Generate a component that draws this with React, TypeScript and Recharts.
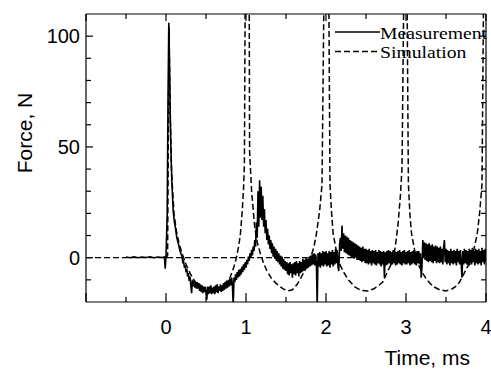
import { LineChart, Line, XAxis, YAxis, ReferenceLine, Legend } from "recharts";

// axis ticks
const timeTicks = [-1, -0.5, 0, 0.5, 1, 1.5, 2, 2.5, 3, 3.5, 4];
const timeLabels = [0, 1, 2, 3, 4];
const forceTicks = [-10, 0, 10, 20, 30, 40, 50, 60, 70, 80, 90, 100];
const forceLabels = [0, 50, 100];

// measured force, ms / N
const measTime = [
  -0.5, -0.45, -0.4, -0.35, -0.3, -0.25, -0.2, -0.15, -0.1, -0.05, -0.02, -0.01, 0,
  0.015, 0.025, 0.035, 0.045, 0.055, 0.065, 0.075, 0.09, 0.105, 0.12, 0.135, 0.15, 0.175,
  0.2, 0.21, 0.22, 0.23, 0.24, 0.25, 0.26, 0.27, 0.28, 0.29, 0.3,
  0.31, 0.32, 0.33, 0.34, 0.35, 0.36, 0.37, 0.38, 0.39, 0.4,
  0.41, 0.42, 0.43, 0.44, 0.45, 0.46, 0.47, 0.48, 0.49, 0.5,
  0.51, 0.52, 0.53, 0.54, 0.55, 0.56, 0.57, 0.58, 0.59, 0.6,
  0.61, 0.62, 0.63, 0.64, 0.65, 0.66, 0.67, 0.68, 0.69, 0.7,
  0.71, 0.72, 0.73, 0.74, 0.75, 0.76, 0.77, 0.78, 0.79, 0.8,
  0.81, 0.82, 0.83, 0.84, 0.85, 0.86, 0.87, 0.88, 0.89, 0.9,
  0.91, 0.92, 0.93, 0.94, 0.95, 0.96, 0.97, 0.98, 0.99, 1.0,
  1.01, 1.02, 1.03, 1.04, 1.05, 1.06, 1.07, 1.08, 1.09, 1.1,
  1.11, 1.12, 1.13, 1.14, 1.15, 1.16, 1.17, 1.18, 1.19, 1.2,
  1.21, 1.22, 1.23, 1.24, 1.25, 1.26, 1.27, 1.28, 1.29, 1.3,
  1.31, 1.32, 1.33, 1.34, 1.35, 1.36, 1.37, 1.38, 1.39, 1.4,
  1.41, 1.42, 1.43, 1.44, 1.45, 1.46, 1.47, 1.48, 1.49, 1.5,
  1.51, 1.52, 1.53, 1.54, 1.55, 1.56, 1.57, 1.58, 1.59, 1.6,
  1.61, 1.62, 1.63, 1.64, 1.65, 1.66, 1.67, 1.68, 1.69, 1.7,
  1.71, 1.72, 1.73, 1.74, 1.75, 1.76, 1.77, 1.78, 1.79, 1.8,
  1.81, 1.82, 1.83, 1.84, 1.85, 1.86, 1.87, 1.88, 1.89, 1.9,
  1.91, 1.92, 1.93, 1.94, 1.95, 1.96, 1.97, 1.98, 1.99, 2.0,
  2.01, 2.02, 2.03, 2.04, 2.05, 2.06, 2.07, 2.08, 2.09, 2.1,
  2.11, 2.12, 2.13, 2.14, 2.15, 2.16, 2.17, 2.18, 2.19, 2.2,
  2.21, 2.22, 2.23, 2.24, 2.25, 2.26, 2.27, 2.28, 2.29, 2.3,
  2.31, 2.32, 2.33, 2.34, 2.35, 2.36, 2.37, 2.38, 2.39, 2.4,
  2.41, 2.42, 2.43, 2.44, 2.45, 2.46, 2.47, 2.48, 2.49, 2.5,
  2.51, 2.52, 2.53, 2.54, 2.55, 2.56, 2.57, 2.58, 2.59, 2.6,
  2.61, 2.62, 2.63, 2.64, 2.65, 2.66, 2.67, 2.68, 2.69, 2.7,
  2.71, 2.72, 2.73, 2.74, 2.75, 2.76, 2.77, 2.78, 2.79, 2.8,
  2.81, 2.82, 2.83, 2.84, 2.85, 2.86, 2.87, 2.88, 2.89, 2.9,
  2.91, 2.92, 2.93, 2.94, 2.95, 2.96, 2.97, 2.98, 2.99, 3.0,
  3.01, 3.02, 3.03, 3.04, 3.05, 3.06, 3.07, 3.08, 3.09, 3.1,
  3.11, 3.12, 3.13, 3.14, 3.15, 3.16, 3.17, 3.18, 3.19, 3.2,
  3.21, 3.22, 3.23, 3.24, 3.25, 3.26, 3.27, 3.28, 3.29, 3.3,
  3.31, 3.32, 3.33, 3.34, 3.35, 3.36, 3.37, 3.38, 3.39, 3.4,
  3.41, 3.42, 3.43, 3.44, 3.45, 3.46, 3.47, 3.48, 3.49, 3.5,
  3.51, 3.52, 3.53, 3.54, 3.55, 3.56, 3.57, 3.58, 3.59, 3.6,
  3.61, 3.62, 3.63, 3.64, 3.65, 3.66, 3.67, 3.68, 3.69, 3.7,
  3.71, 3.72, 3.73, 3.74, 3.75, 3.76, 3.77, 3.78, 3.79, 3.8,
  3.81, 3.82, 3.83, 3.84, 3.85, 3.86, 3.87, 3.88, 3.89, 3.9,
  3.91, 3.92, 3.93, 3.94, 3.95, 3.96, 3.97, 3.98, 3.99, 4.0,
];
const measForce = [
  0.3, 0, 0.4, 0, 0.3, 0.1, 0.4, 0, 0.3, 0.1, 0.3, -5, 0.5,
  20, 70, 106, 85, 60, 44, 33, 21, 16, 13, 9, 7, 3,
  0.5, -2, -1.5, -4.5, -3.5, -6.5, -5, -8.5, -7, -10.5, -8.5,
  -12.5, -16, -10, -13, -10.5, -13.5, -11, -14, -11, -14,
  -11.5, -15, -12, -15.5, -12.5, -16, -13, -15.5, -13, -16,
  -19, -13, -16.5, -13, -16, -12.5, -16.5, -13.5, -16, -13,
  -16.5, -12.5, -15.5, -12, -16, -13, -15, -12, -15.5, -12.5,
  -15, -11.5, -14.5, -11, -14, -10.5, -13.5, -10, -13, -9.5,
  -12.5, -9, -12, -22, -9, -11, -7.5, -10, -6.5, -9,
  -5.5, -8.5, -5, -7.5, -4, -6.5, -3, -5.5, -2, -4.5,
  -1, -3, 0.5, -1.5, 2, 0, 3.5, 1, 5, 3,
  8, 5, 16, 9, 30, 14, 35, 18, 32, 17,
  28, 14, 22, 11, 17, 8, 13, 6, 10, 4,
  8, 2, 6.5, 0.5, 5, -0.5, 4, -1.5, 3, -2,
  2, -3, 1, -4, 0.5, -5, -0.5, -5.5, -1.5, -6,
  -2, -7.5, -2.5, -8, -2, -7, -3, -9, -2.5, -7.5,
  -2, -8, -1.5, -7, -2.5, -8.5, -1.5, -7, -2, -6.5,
  -0.5, -6, -1, -5.5, 0, -5, -0.5, -4.5, 0.5, -4,
  1, -3.5, 1.5, -3, 2, -3.5, 1.5, -2.5, -22, 2,
  -4, 2.5, -4.5, 2, -3.5, 3, -4, 2.5, -3, 3,
  -4, 2, -3.5, 3, -4.5, 2.5, -3, 3.5, -4, 2.5,
  -3, 4, -2.5, 3.5, -4, -6, 6, 9, 3, 14.5,
  4, 11, 2.5, 10, 2, 9.5, 1.5, 9, 1, 8,
  0.5, 7.5, 0, 7, -0.5, 6.5, 0, 6, -1, 5.5,
  -1, 5, -1.5, 4.5, -2, 5, -1.5, 4, -2.5, 4,
  -2.5, 3.5, -3, 4, -2.5, 3, -3.5, 3.5, -2.5, 3,
  -3, 3.5, -3.5, 2.5, -2.5, 3.5, -3, 3, -4, 2.5,
  -3, 3, -9, 2.5, -3.5, 3, -3, 3.5, -2.5, 3,
  -3.5, 2.5, -3, 3.5, -2.5, 3, -3.5, 2.5, -3, 3,
  -2.5, 3.5, -3, 2.5, -3.5, 3, -2.5, 3.5, -3, 2.5,
  -3, 3, -2.5, 3.5, -3.5, 2.5, -3, 3, -2.5, 3.5,
  -3, 2.5, -3.5, 3, -2.5, 3, -3, 2, -9, -4,
  8, 0, 7, -1, 6.5, -1.5, 6, -2, 6.5, -1.5,
  5.5, -2, 6, -2.5, 5, -1.5, 5.5, -2.5, 5, -2,
  4.5, -2.5, 5, -2, 4, -3, 4.5, 8, -2, 4,
  -3, 3.5, -2.5, 3, -3.5, 4, -2.5, 3, -3, 3.5,
  -2.5, 3, -3.5, 4, -2, 3, -3, 3.5, -2.5, -9,
  3, -3, 4, -2.5, 3.5, -3, 3, -3.5, 4, -2.5,
  3.5, -3, 4.5, -2, 3, -3.5, 4, -2.5, 3.5, -3,
  4, -2.5, 3, -3.5, 4.5, -2, 3.5, -3, 4, -2,
];

// simulated force, ms / N
const simTime = [
  0, 0.02, 0.03, 0.038, 0.05, 0.07, 0.1, 0.13, 0.16, 0.2, 0.25, 0.3, 0.35, 0.4, 0.5, 0.6,
  0.7, 0.8, 0.85, 0.88, 0.91, 0.93, 0.955, 0.97, 0.98, 0.99, 1.015, 1.04, 1.045, 1.07,
  1.11, 1.14, 1.18, 1.22, 1.26, 1.32, 1.38, 1.46, 1.52, 1.58, 1.64, 1.68, 1.74, 1.8, 1.85,
  1.88, 1.92, 1.95, 1.975, 2.01, 2.035, 2.05, 2.07, 2.09, 2.13, 2.17, 2.22, 2.28,
  2.36, 2.44, 2.52, 2.6, 2.66, 2.71, 2.76, 2.8, 2.84, 2.87, 2.9, 2.93, 2.95, 2.97,
  2.995, 3.015, 3.03, 3.05, 3.07, 3.11, 3.15, 3.2, 3.26, 3.34, 3.42, 3.5, 3.58, 3.64, 3.67,
  3.72, 3.77, 3.8, 3.85, 3.89, 3.92, 3.95, 3.97, 4.0,
];
const simForce = [
  0, 1, 60, 104, 70, 38, 20, 12, 7, 2, -3, -7, -10, -12.5, -14.8, -14.5,
  -13, -9, -4, 0, 5.5, 10.7, 22, 32, 42, 120, 200, 120, 48, 30,
  13.5, 7, 1.8, -2.5, -5.8, -9.5, -11.7, -14, -15, -14.5, -12, -9.5, -5.5, -1, 5,
  10.7, 21, 33, 120, 200, 120, 33, 20, 10.7, 3, -2.8, -6.5, -10,
  -13.2, -14.8, -15, -14, -12.5, -11, -7, -4, -1, 6, 15, 28, 40.6, 110,
  200, 110, 33, 19, 10.7, 3, -2.8, -6.5, -10, -13, -14.5, -15, -14, -12.5, -11,
  -7.5, -4, -2.8, 4, 10.7, 20, 33, 120, 200,
];

const measData = measTime.map((t, i) => ({ t, f: measForce[i] }));
const simData = simTime.map((t, i) => ({ t, f: simForce[i] }));

const sans = "'Liberation Sans', Arial, sans-serif";
const serif = "'Liberation Serif', 'Times New Roman', serif";

function BottomTick({ x, y, payload }: any) {
  const v = payload.value;
  const major = Number.isInteger(v);
  return (
    <g>
      <line x1={x} x2={x} y1={y} y2={y - (major ? 9 : 5)} stroke="#000" strokeWidth={1.2} />
      {timeLabels.includes(v) && (
        <text x={x} y={y + 25} dy="0.35em" textAnchor="middle" fontSize={20} fontFamily={sans} fill="#000">
          {v}
        </text>
      )}
    </g>
  );
}

function TopTick({ x, y, payload }: any) {
  const major = Number.isInteger(payload.value);
  return <line x1={x} x2={x} y1={y} y2={y + (major ? 7 : 5)} stroke="#000" strokeWidth={1.2} />;
}

function LeftTick({ x, y, payload }: any) {
  const v = payload.value;
  const major = forceLabels.includes(v);
  return (
    <g>
      <line x1={x} x2={x + (major ? 7 : 5)} y1={y} y2={y} stroke="#000" strokeWidth={1.2} />
      {major && (
        <text x={x - 6} y={y} dy="0.35em" textAnchor="end" fontSize={20} fontFamily={sans} fill="#000">
          {v}
        </text>
      )}
    </g>
  );
}

function RightTick({ x, y, payload }: any) {
  const major = forceLabels.includes(payload.value);
  return <line x1={x} x2={x - (major ? 7 : 5)} y1={y} y2={y} stroke="#000" strokeWidth={1.2} />;
}

function TimeTitle() {
  return (
    <text x={470} y={365} textAnchor="end" fontSize={21} fontFamily={sans} fill="#000">
      Time, ms
    </text>
  );
}

function ForceTitle() {
  return (
    <text transform="translate(32,133) rotate(-90)" textAnchor="middle" fontSize={21} fontFamily={sans} fill="#000">
      Force, N
    </text>
  );
}

function LegendBox({ payload }: any) {
  const items = payload || [];
  return (
    <svg width={491} height={80} style={{ overflow: "visible", display: "block" }}>
      {items.map((it: any, i: number) => {
        const cy = 32 + i * 19.5;
        return (
          <g key={it.value}>
            <line
              x1={335}
              x2={380}
              y1={cy}
              y2={cy}
              stroke="#000"
              strokeWidth={1.5}
              strokeDasharray={it.payload?.strokeDasharray}
            />
            <text
              transform={`translate(380,${cy + 6.5}) scale(1.23,1)`}
              fontSize={16}
              fontFamily={serif}
              fill="#000"
            >
              {it.value}
            </text>
          </g>
        );
      })}
    </svg>
  );
}

export default function App() {
  return (
    <div style={{ position: "absolute", left: 0, top: 0, width: 491, height: 370, background: "#fff" }}>
      <LineChart width={491} height={370} margin={{ top: 13, right: 4, bottom: 0, left: 0 }}>
        <XAxis
          dataKey="t"
          type="number"
          domain={[-1, 4]}
          ticks={timeTicks}
          interval={0}
          allowDataOverflow
          height={68}
          tickLine={false}
          tickSize={0}
          tickMargin={0}
          tick={<BottomTick />}
          axisLine={{ stroke: "#000", strokeWidth: 1.2 }}
          label={<TimeTitle />}
        />
        <XAxis
          xAxisId="top"
          dataKey="t"
          orientation="top"
          type="number"
          domain={[-1, 4]}
          ticks={timeTicks}
          interval={0}
          allowDataOverflow
          height={1}
          tickLine={false}
          tickSize={0}
          tickMargin={0}
          tick={<TopTick />}
          axisLine={{ stroke: "#000", strokeWidth: 1.2 }}
        />
        <YAxis
          type="number"
          domain={[-20, 110]}
          ticks={forceTicks}
          interval={0}
          allowDataOverflow
          width={86}
          tickLine={false}
          tickSize={0}
          tickMargin={0}
          tick={<LeftTick />}
          axisLine={{ stroke: "#000", strokeWidth: 1.2 }}
          label={<ForceTitle />}
        />
        <YAxis
          yAxisId="right"
          orientation="right"
          type="number"
          domain={[-20, 110]}
          ticks={forceTicks}
          interval={0}
          allowDataOverflow
          width={1}
          tickLine={false}
          tickSize={0}
          tickMargin={0}
          tick={<RightTick />}
          axisLine={{ stroke: "#000", strokeWidth: 1.2 }}
        />
        <ReferenceLine y={0} stroke="#000" strokeWidth={1.3} strokeDasharray="6 3" />
        <Line
          data={simData}
          xAxisId="top"
          yAxisId="right"
          dataKey="f"
          name="Simulation"
          type="linear"
          stroke="#000"
          strokeWidth={1.5}
          strokeDasharray="6 3"
          dot={false}
          isAnimationActive={false}
        />
        <Line
          data={measData}
          dataKey="f"
          name="Measurement"
          type="linear"
          stroke="#000"
          strokeWidth={1.6}
          dot={false}
          isAnimationActive={false}
        />
        <Legend
          layout="horizontal"
          verticalAlign="middle"
          align="center"
          wrapperStyle={{ left: 0, top: 0, width: 491, height: 80 }}
          payload={[
            { value: "Measurement", type: "line", color: "#000", payload: { strokeDasharray: undefined } },
            { value: "Simulation", type: "line", color: "#000", payload: { strokeDasharray: "6 3" } },
          ] as any}
          content={<LegendBox />}
        />
      </LineChart>
    </div>
  );
}
